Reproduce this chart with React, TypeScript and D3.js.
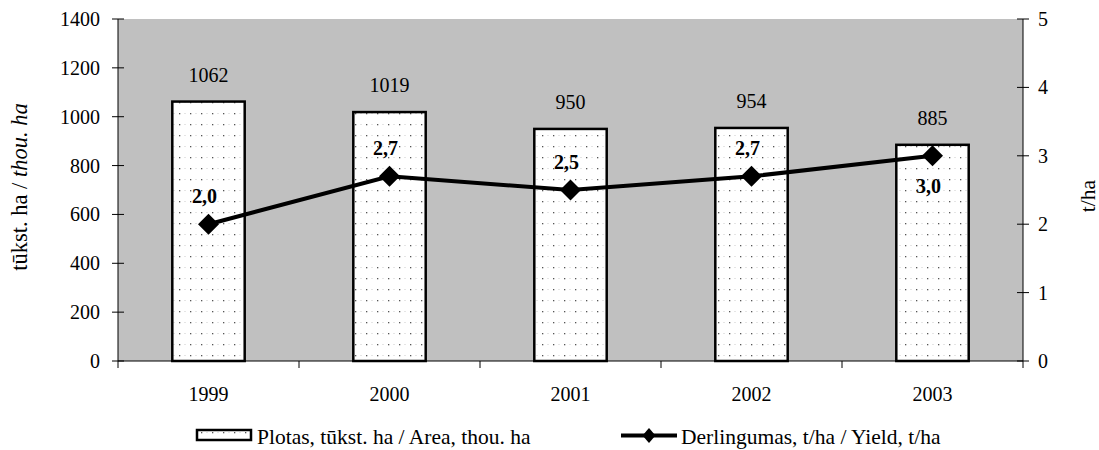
import React from "react";
import * as d3 from "d3";

const years = ["1999", "2000", "2001", "2002", "2003"];
const areaValues = [1062, 1019, 950, 954, 885];
const yieldValues = [2.0, 2.7, 2.5, 2.7, 3.0];
const yieldLabels = ["2,0", "2,7", "2,5", "2,7", "3,0"];
const leftTicks = [0, 200, 400, 600, 800, 1000, 1200, 1400];
const rightTicks = [0, 1, 2, 3, 4, 5];

const W = 1099, H = 450;
const L = 118, R = 1023, T = 19, B = 361;
const FONT = "'Liberation Serif', 'Times New Roman', serif";

export default function App() {
  const x = d3.scaleBand<string>().domain(years).range([L, R]).paddingInner(0).paddingOuter(0);
  const yL = d3.scaleLinear().domain([0, 1400]).range([B, T]);
  const yR = d3.scaleLinear().domain([0, 5]).range([B, T]);
  const bw = x.bandwidth() * 0.4;
  const cx = (d: string) => (x(d) as number) + x.bandwidth() / 2;
  const line = d3.line<number>().x((_, i) => cx(years[i])).y((v) => yR(v));
  const diamond = (px: number, py: number, sw = 10.5, sh = 10.5) =>
    `M${px},${py - sh}L${px + sw},${py}L${px},${py + sh}L${px - sw},${py}Z`;
  const fs = 20;
  const fl = 21.5;

  return (
    <svg width={W} height={H} style={{ position: "absolute", left: 0, top: 0, fontFamily: FONT }}>
      <defs>
        <pattern id="dots" width="11" height="11" patternUnits="userSpaceOnUse">
          <rect width="11" height="11" fill="#fff" />
          <rect x="3" y="3" width="1.3" height="1.3" fill="#555" />
          <rect x="8.5" y="3" width="1" height="1" fill="#ccc" />
        </pattern>
      </defs>
      <rect x={0} y={0} width={W} height={H} fill="#fff" />
      <rect x={L} y={T} width={R - L} height={B - T} fill="#c0c0c0" />

      {years.map((d, i) => (
        <g key={d}>
          <rect x={cx(d) - bw / 2} y={yL(areaValues[i])} width={bw} height={B - yL(areaValues[i])}
            fill="url(#dots)" stroke="#000" strokeWidth={2.5} />
          <text x={cx(d)} y={yL(areaValues[i]) - 20} textAnchor="middle" fontSize={fs}>{areaValues[i]}</text>
        </g>
      ))}

      {/* axes */}
      <line x1={L} y1={T} x2={L} y2={B} stroke="#000" strokeWidth={1} />
      <line x1={R} y1={T} x2={R} y2={B} stroke="#000" strokeWidth={1} />
      <line x1={L} y1={B} x2={R} y2={B} stroke="#000" strokeWidth={1} />
      {leftTicks.map((t) => (
        <g key={"l" + t}>
          <line x1={L - 6} x2={L + 6} y1={yL(t)} y2={yL(t)} stroke="#000" />
          <text x={L - 18} y={yL(t) + 7} textAnchor="end" fontSize={fs}>{t}</text>
        </g>
      ))}
      {rightTicks.map((t) => (
        <g key={"r" + t}>
          <line x1={R - 6} x2={R + 6} y1={yR(t)} y2={yR(t)} stroke="#000" />
          <text x={R + 15} y={yR(t) + 7} textAnchor="start" fontSize={fs}>{t}</text>
        </g>
      ))}
      {[...years.map((d) => x(d) as number), R].map((p, i) => (
        <line key={"xt" + i} x1={p} x2={p} y1={B} y2={B + 7} stroke="#000" />
      ))}
      {years.map((d) => (
        <text key={"xl" + d} x={cx(d)} y={B + 40} textAnchor="middle" fontSize={fs}>{d}</text>
      ))}

      {/* line series */}
      <path d={line(yieldValues) as string} fill="none" stroke="#000" strokeWidth={4} />
      {years.map((d, i) => (
        <path key={"m" + d} d={diamond(cx(d), yR(yieldValues[i]))} fill="#000" />
      ))}
      {years.map((d, i) => {
        const below = i === years.length - 1;
        return (
          <text key={"yl" + d} x={cx(d) - 4} y={below ? yR(yieldValues[i]) + 37 : yR(yieldValues[i]) - 21}
            textAnchor="middle" fontSize={fs} fontWeight="bold">{yieldLabels[i]}</text>
        );
      })}

      {/* axis titles */}
      <text transform={`translate(27,187) rotate(-90)`} textAnchor="middle" fontSize={22.5}>
        tūkst. ha / <tspan fontStyle="italic">thou. ha</tspan>
      </text>
      <text transform={`translate(1095,196) rotate(-90)`} textAnchor="middle" fontSize={fl}>t/ha</text>

      {/* legend */}
      <rect x={197} y={430} width={54} height={10} fill="url(#dots)" stroke="#000" strokeWidth={2.5} />
      <text x={257} y={444} fontSize={fl}>Plotas, tūkst. ha / Area, thou. ha</text>
      <line x1={621} x2={677} y1={435.5} y2={435.5} stroke="#000" strokeWidth={4} />
      <path d={diamond(649, 435.5, 6.5, 7.5)} fill="#000" />
      <text x={681} y={444} fontSize={fl}>Derlingumas, t/ha / Yield, t/ha</text>
    </svg>
  );
}
